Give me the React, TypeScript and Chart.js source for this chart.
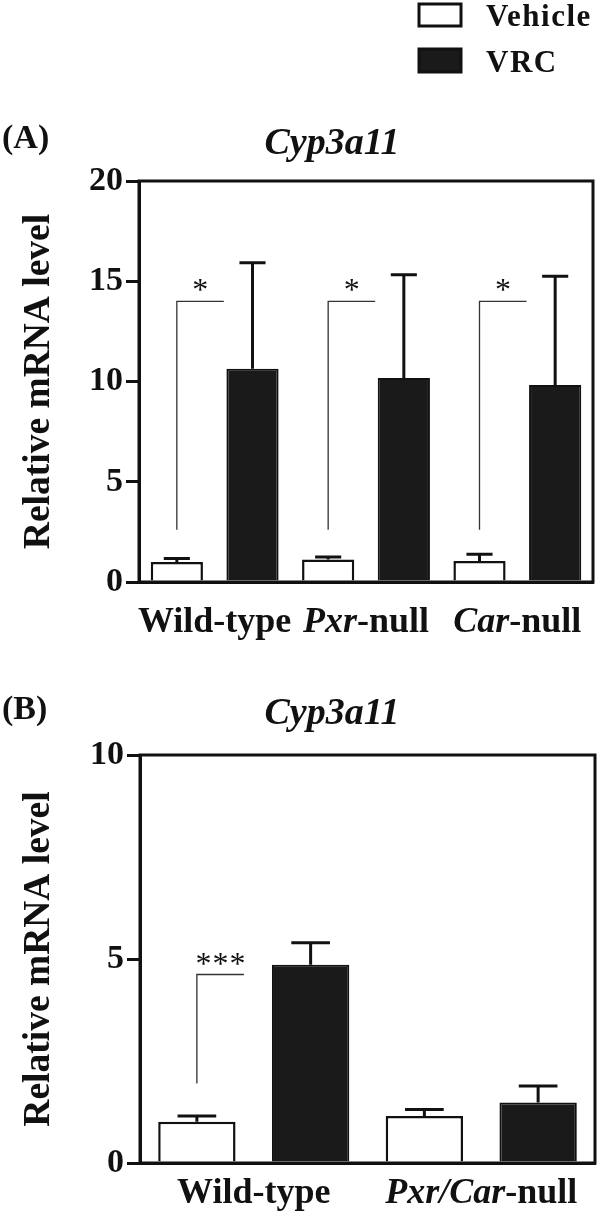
import React, { useEffect, useRef } from "react";
import { Chart, registerables } from "chart.js";

Chart.register(...registerables);

// ---------- data ----------
const seriesNames = ["Vehicle", "VRC"];

const categoriesA = ["Wild-type", "Pxr-null", "Car-null"];
const italicPartA = ["", "Pxr", "Car"];
const vehicleA = [1.0, 1.12, 1.05];
const vehicleErrA = [0.17, 0.13, 0.33];
const vrcA = [10.63, 10.17, 9.83];
const vrcErrA = [5.29, 5.16, 5.42];
const sigA = ["*", "*", "*"];
const bracketLowA = [2.6, 2.6, 2.6];
const bracketHighA = [14.0, 14.0, 14.0];
const yTicksA = [0, 5, 10, 15, 20];

const categoriesB = ["Wild-type", "Pxr/Car-null"];
const italicPartB = ["", "Pxr/Car"];
const vehicleB = [1.01, 1.15];
const vehicleErrB = [0.14, 0.16];
const vrcB = [4.86, 1.48];
const vrcErrB = [0.54, 0.41];
const sigB = ["***", ""];
const bracketLowB = [1.95, 0];
const bracketHighB = [4.62, 0];
const yTicksB = [0, 5, 10];

const geneTitle = "Cyp3a11";
const yAxisTitle = "Relative mRNA level";

// ---------- style ----------
const FONT = '"Liberation Serif", "Times New Roman", serif';
const INK = "#111111";
const DARK = "#1a1a1a";

const decorPlugin = {
  id: "panelDecor",
  afterDatasetsDraw(chart: any, _args: any, opts: any) {
    const ctx = chart.ctx as CanvasRenderingContext2D;
    const y = chart.scales.y;
    const area = chart.chartArea;
    ctx.save();
    // error bars (upper only)
    chart.data.datasets.forEach((ds: any, di: number) => {
      const meta = chart.getDatasetMeta(di);
      meta.data.forEach((el: any, i: number) => {
        const v = ds.data[i];
        const e = ds.errors[i];
        const top = y.getPixelForValue(v);
        const et = y.getPixelForValue(v + e);
        const cw = el.width * 0.5;
        ctx.strokeStyle = INK;
        ctx.lineWidth = 3;
        ctx.beginPath();
        ctx.moveTo(el.x, top);
        ctx.lineTo(el.x, et);
        ctx.moveTo(el.x - cw / 2, et);
        ctx.lineTo(el.x + cw / 2, et);
        ctx.stroke();
      });
    });
    // significance brackets
    const vm = chart.getDatasetMeta(0);
    opts.sig.forEach((s: string, i: number) => {
      if (!s) return;
      const el = vm.data[i];
      const x0 = el.x;
      const x1 = x0 + opts.arm;
      const yl = y.getPixelForValue(opts.bracketLow[i]);
      const yh = y.getPixelForValue(opts.bracketHigh[i]);
      ctx.strokeStyle = "#333";
      ctx.lineWidth = 1.3;
      ctx.beginPath();
      ctx.moveTo(x0, yl);
      ctx.lineTo(x0, yh);
      ctx.lineTo(x1, yh);
      ctx.stroke();
      ctx.fillStyle = INK;
      ctx.font = `32px ${FONT}`;
      ctx.textAlign = "center";
      ctx.textBaseline = "alphabetic";
      const sp = s.length > 1 ? 1 : 0;
      (ctx as any).letterSpacing = `${sp}px`;
      ctx.fillText(s, (x0 + x1) / 2 + sp / 2, yh - 1);
      (ctx as any).letterSpacing = "0px";
    });
    // frame
    ctx.strokeStyle = INK;
    ctx.lineWidth = 3;
    ctx.strokeRect(area.left, area.top, area.right - area.left, area.bottom - area.top);
    ctx.restore();
  },
  afterDraw(chart: any, _args: any, opts: any) {
    const ctx = chart.ctx as CanvasRenderingContext2D;
    const x = chart.scales.x;
    ctx.save();
    ctx.fillStyle = INK;
    ctx.textBaseline = "alphabetic";
    ctx.textAlign = "left";
    // x category labels with italic gene part
    const labels: string[] = chart.data.labels;
    labels.forEach((lab: string, i: number) => {
      const it = opts.italic[i] || "";
      const rest = lab.slice(it.length);
      ctx.font = `italic bold ${opts.xFont}px ${FONT}`;
      const w1 = it ? ctx.measureText(it).width : 0;
      ctx.font = `bold ${opts.xFont}px ${FONT}`;
      const w2 = ctx.measureText(rest).width;
      let sx = x.getPixelForValue(i) - (w1 + w2) / 2;
      if (it) {
        ctx.font = `italic bold ${opts.xFont}px ${FONT}`;
        ctx.fillText(it, sx, opts.xBaseline);
        sx += w1;
      }
      ctx.font = `bold ${opts.xFont}px ${FONT}`;
      ctx.fillText(rest, sx, opts.xBaseline);
    });
    // gene title
    ctx.textAlign = "center";
    ctx.font = `italic bold 38px ${FONT}`;
    ctx.fillText(opts.title, opts.titleX, opts.titleY);
    // panel letter
    ctx.textAlign = "left";
    ctx.font = `bold 34px ${FONT}`;
    ctx.fillText(opts.letter, 2, opts.letterY);
    // legend
    if (opts.legend) {
      const boxes = [
        { y: 4, h: 22, base: 26 },
        { y: 49, h: 23, base: 72 },
      ];
      chart.data.datasets.forEach((ds: any, di: number) => {
        const b = boxes[di];
        ctx.fillStyle = ds.backgroundColor;
        ctx.fillRect(419, b.y, 42, b.h);
        ctx.strokeStyle = INK;
        ctx.lineWidth = 3;
        ctx.strokeRect(419, b.y, 42, b.h);
        ctx.fillStyle = INK;
        ctx.font = `bold 31px ${FONT}`;
        (ctx as any).letterSpacing = "1.5px";
        ctx.fillText(ds.label, 486, b.base);
        (ctx as any).letterSpacing = "0px";
      });
    }
    ctx.restore();
  },
};

function makeConfig(p: any) {
  return {
    type: "bar",
    data: {
      labels: p.categories,
      datasets: [
        {
          label: seriesNames[0],
          data: p.vehicle,
          errors: p.vehicleErr,
          backgroundColor: "#ffffff",
          borderColor: INK,
          borderWidth: 2.5,
        },
        {
          label: seriesNames[1],
          data: p.vrc,
          errors: p.vrcErr,
          backgroundColor: DARK,
          borderColor: INK,
          borderWidth: 2,
        },
      ],
    },
    options: {
      responsive: false,
      animation: false,
      devicePixelRatio: 1,
      barPercentage: p.barPct,
      categoryPercentage: 1.0,
      layout: { padding: { top: p.padTop, right: p.padRight, left: 0, bottom: 0 } },
      plugins: {
        legend: { display: false },
        title: { display: false },
        tooltip: { enabled: false },
        panelDecor: {
          italic: p.italic,
          sig: p.sig,
          bracketLow: p.bracketLow,
          bracketHigh: p.bracketHigh,
          arm: 47,
          xFont: 36,
          xBaseline: p.xBaseline,
          title: geneTitle,
          titleX: 332,
          titleY: p.titleY,
          letter: p.letter,
          letterY: p.letterY,
          legend: p.legend,
        },
      },
      scales: {
        x: {
          type: "category",
          grid: { display: false },
          border: { display: true, color: INK, width: 3 },
          ticks: { display: false },
          afterFit: (s: any) => {
            s.height = p.xHeight;
          },
        },
        y: {
          min: 0,
          max: p.yTicks[p.yTicks.length - 1],
          afterBuildTicks: (s: any) => {
            s.ticks = p.yTicks.map((v: number) => ({ value: v }));
          },
          afterFit: (s: any) => {
            s.width = p.yWidth;
          },
          grid: {
            display: true,
            drawOnChartArea: false,
            drawTicks: true,
            tickLength: 13,
            lineWidth: 3,
            color: INK,
          },
          border: { display: true, color: INK, width: 3 },
          ticks: {
            color: INK,
            padding: 3,
            font: { family: FONT, size: 34, weight: "bold" },
          },
          title: {
            display: true,
            text: yAxisTitle,
            color: INK,
            font: { family: FONT, size: 37.5, weight: "bold" },
            padding: { top: 17, bottom: 0 },
          },
        },
      },
    },
    plugins: [decorPlugin],
  };
}

const panelA = {
  categories: categoriesA,
  italic: italicPartA,
  vehicle: vehicleA,
  vehicleErr: vehicleErrA,
  vrc: vrcA,
  vrcErr: vrcErrA,
  sig: sigA,
  bracketLow: bracketLowA,
  bracketHigh: bracketHighA,
  yTicks: yTicksA,
  barPct: 0.69,
  padTop: 181,
  padRight: 7,
  yWidth: 139,
  xHeight: 68,
  xBaseline: 632,
  titleY: 154,
  letter: "(A)",
  letterY: 148,
  legend: true,
};

const panelB = {
  categories: categoriesB,
  italic: italicPartB,
  vehicle: vehicleB,
  vehicleErr: vehicleErrB,
  vrc: vrcB,
  vrcErr: vrcErrB,
  sig: sigB,
  bracketLow: bracketLowB,
  bracketHigh: bracketHighB,
  yTicks: yTicksB,
  barPct: 0.68,
  padTop: 105,
  padRight: 5,
  yWidth: 140,
  xHeight: 54,
  xBaseline: 553,
  titleY: 74,
  letter: "(B)",
  letterY: 69,
  legend: false,
};

function Panel({ cfg, top, height }: { cfg: any; top: number; height: number }) {
  const ref = useRef<HTMLCanvasElement | null>(null);
  useEffect(() => {
    if (!ref.current) return;
    const chart = new Chart(ref.current, makeConfig(cfg) as any);
    return () => chart.destroy();
  }, [cfg]);
  return (
    <div style={{ position: "absolute", left: 0, top, width: 600, height }}>
      <canvas ref={ref} width={600} height={height} style={{ display: "block" }} />
    </div>
  );
}

export default function App() {
  return (
    <div
      style={{
        position: "absolute",
        left: 0,
        top: 0,
        width: 600,
        height: 1217,
        background: "#ffffff",
        overflow: "hidden",
      }}
    >
      <Panel cfg={panelA} top={0} height={650} />
      <Panel cfg={panelB} top={650} height={567} />
    </div>
  );
}
